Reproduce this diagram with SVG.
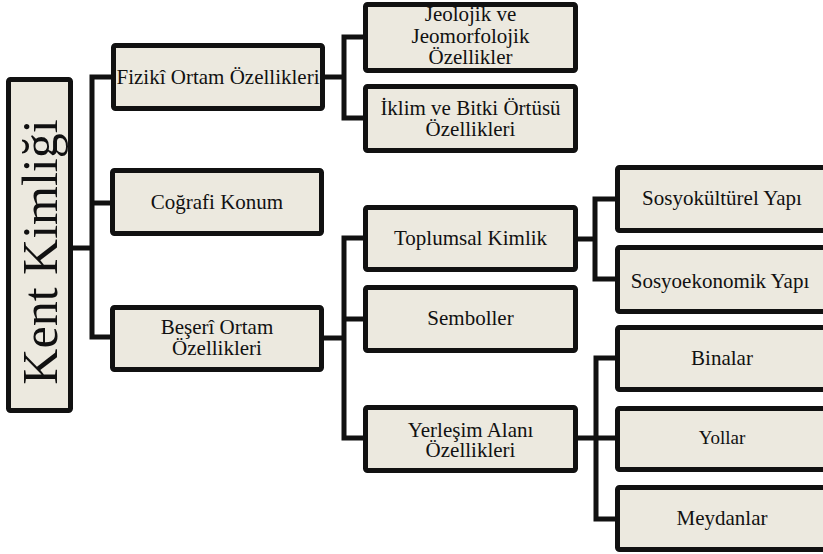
<svg xmlns="http://www.w3.org/2000/svg" width="823" height="554" viewBox="0 0 823 554">
<style>
rect.b{fill:#ECE9DF;stroke:#111;stroke-width:5}
text{fill:#111;text-anchor:middle}
.c path{fill:none;stroke:#111;stroke-width:5;stroke-linejoin:miter;stroke-linecap:butt}
</style>
<rect width="823" height="554" fill="#fff"/>
<g class="c" id="connectors">
<path d="M113 77H92V337H113"/>
<path d="M73 248H92"/>
<path d="M92 203H113"/>
<path d="M325 77H344"/>
<path d="M363 37H344V118H363"/>
<path d="M323 338H344"/>
<path d="M363 238H344V438H363"/>
<path d="M344 319H363"/>
<path d="M578 239H595"/>
<path d="M615 199H595V279H615"/>
<path d="M578 438H615"/>
<path d="M615 358H596V519H615"/>
</g>
<g font-size="21" font-family="Liberation Serif, Times New Roman, serif">
<g id="kent"><rect class="b" x="8.5" y="79.5" width="62" height="331" rx="2"/><text transform="translate(57,252) rotate(-90)" font-size="50">Kent Kimliği</text></g>
<g id="fiziki"><rect class="b" x="113.5" y="45.5" width="209" height="63" rx="2"/><text x="218" y="84">Fizikî Ortam Özellikleri</text></g>
<g id="cografi"><rect class="b" x="112.5" y="170.5" width="209" height="63" rx="2"/><text x="217" y="209">Coğrafi Konum</text></g>
<g id="beseri"><rect class="b" x="112.5" y="307.5" width="209" height="62" rx="2"/><text x="217" y="334">Beşerî Ortam</text><text x="217" y="355">Özellikleri</text></g>
<g id="jeolojik"><rect class="b" x="365.5" y="4.5" width="210" height="66" rx="2"/><text x="470.5" y="21">Jeolojik ve</text><text x="470.5" y="43">Jeomorfolojik</text><text x="470.5" y="64">Özellikler</text></g>
<g id="iklim"><rect class="b" x="365.5" y="86.5" width="210" height="64" rx="2"/><text x="470.5" y="115">İklim ve Bitki Örtüsü</text><text x="470.5" y="136">Özellikleri</text></g>
<g id="toplumsal"><rect class="b" x="365.5" y="207.5" width="210" height="62" rx="2"/><text x="470.5" y="245">Toplumsal Kimlik</text></g>
<g id="semboller"><rect class="b" x="365.5" y="287.5" width="210" height="63" rx="2"/><text x="470.5" y="325">Semboller</text></g>
<g id="yerlesim"><rect class="b" x="365.5" y="407.5" width="210" height="63" rx="2"/><text x="470.5" y="437">Yerleşim Alanı</text><text x="470.5" y="457">Özellikleri</text></g>
<g id="sosyokulturel"><rect class="b" x="617.5" y="167.5" width="212" height="63" rx="2"/><text x="722" y="205">Sosyokültürel Yapı</text></g>
<g id="sosyoekonomik"><rect class="b" x="617.5" y="247.5" width="212" height="64" rx="2"/><text x="720" y="288">Sosyoekonomik Yapı</text></g>
<g id="binalar"><rect class="b" x="617.5" y="327.5" width="212" height="62" rx="2"/><text x="722" y="365">Binalar</text></g>
<g id="yollar"><rect class="b" x="617.5" y="408.5" width="212" height="61" rx="2"/><text x="722" y="444" font-size="19">Yollar</text></g>
<g id="meydanlar"><rect class="b" x="617.5" y="487.5" width="212" height="62" rx="2"/><text x="722" y="525">Meydanlar</text></g>
</g>
</svg>
